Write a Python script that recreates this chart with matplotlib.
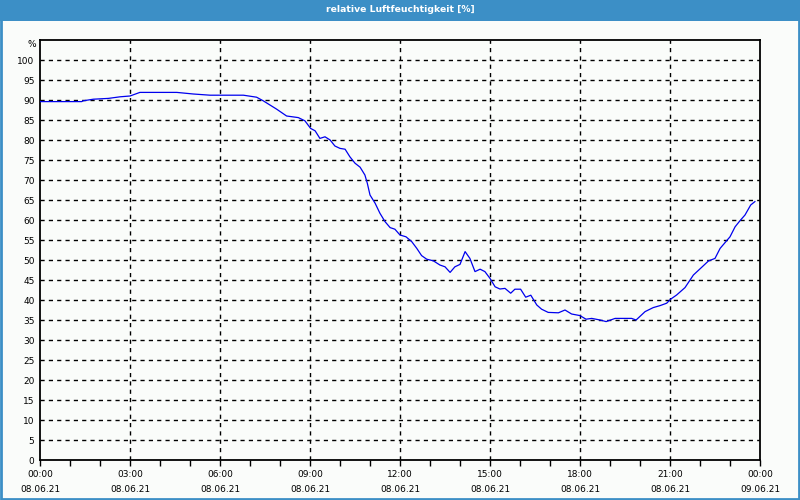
import matplotlib
matplotlib.use("Agg")
import matplotlib.pyplot as plt
from matplotlib.patches import Rectangle
from matplotlib.ticker import MultipleLocator

title = "relative Luftfeuchtigkeit [%]"
unit = "%"
tick_hours = [0, 3, 6, 9, 12, 15, 18, 21, 24]
tick_labels = ["00:00\n08.06.21", "03:00\n08.06.21", "06:00\n08.06.21", "09:00\n08.06.21",
               "12:00\n08.06.21", "15:00\n08.06.21", "18:00\n08.06.21", "21:00\n08.06.21",
               "00:00\n09.06.21"]
y_ticks = list(range(0, 101, 5))

hours = [0.0, 1.39, 1.44, 1.78, 2.28, 2.67, 3.0, 3.33, 4.56, 5.11, 5.67, 6.78, 7.22, 7.44,
         7.89, 8.22, 8.61, 8.83, 9.02, 9.17, 9.33, 9.5, 9.67, 9.83, 10.0, 10.17, 10.33,
         10.5, 10.67, 10.83, 10.91, 11.0, 11.17, 11.33, 11.5, 11.67, 11.83, 12.0, 12.2,
         12.39, 12.56, 12.72, 12.89, 13.11, 13.33, 13.5, 13.67, 13.83, 14.0, 14.17, 14.33,
         14.5, 14.67, 14.83, 15.0, 15.17, 15.33, 15.5, 15.69, 15.83, 16.02, 16.19, 16.36,
         16.56, 16.72, 16.94, 17.28, 17.5, 17.72, 18.0, 18.2, 18.39, 18.67, 18.87, 19.17,
         19.44, 19.72, 19.87, 20.17, 20.44, 20.67, 20.89, 21.02, 21.22, 21.5, 21.78, 22.06,
         22.28, 22.5, 22.67, 23.0, 23.17, 23.33, 23.5, 23.69, 23.83]
rh = [89.6, 89.6, 89.8, 90.2, 90.4, 90.8, 91.0, 91.9, 91.9, 91.5, 91.2, 91.2, 90.7, 89.8,
      87.7, 86.0, 85.6, 84.8, 82.9, 82.3, 80.4, 80.8, 80.0, 78.5, 77.9, 77.7, 75.8,
      74.2, 73.2, 71.25, 69.2, 66.25, 64.2, 61.7, 59.6, 58.1, 57.7, 56.25, 55.8,
      54.6, 52.9, 51.1, 50.2, 49.8, 48.75, 48.3, 46.9, 48.3, 48.9, 52.1, 50.4,
      47.1, 47.7, 47.1, 45.4, 43.3, 42.75, 42.9, 41.7, 42.7, 42.7, 40.7, 41.2,
      38.75, 37.7, 36.9, 36.8, 37.5, 36.5, 36.1, 35.2, 35.4, 35.0, 34.6, 35.4,
      35.4, 35.4, 35.0, 37.1, 38.1, 38.6, 39.2, 40.2, 41.25, 43.1, 46.25, 48.2,
      49.75, 50.4, 52.9, 55.8, 58.3, 59.8, 61.25, 63.75, 64.6]

bg = "#fafcfa"
blue = "#3c8fc6"

fig = plt.figure(figsize=(8, 5), dpi=100, facecolor=bg)
fig.patches.append(Rectangle((0, 0.959), 1, 0.041, transform=fig.transFigure,
                             facecolor=blue, edgecolor="none", zorder=0))
fig.patches.append(Rectangle((0.0015, 0.002), 0.997, 0.996, transform=fig.transFigure,
                             facecolor="none", edgecolor=blue, linewidth=2, zorder=1))
fig.text(0.5, 0.981, title, color="white", ha="center", va="center",
         fontsize=6.7, fontweight="bold", family="DejaVu Sans")

ax = fig.add_axes([0.05, 0.08, 0.90, 0.84])
ax.set_facecolor(bg)
ax.plot(hours, rh, color="#0000ee", linewidth=0.9, zorder=3)
ax.set_xlim(0, 24)
ax.set_ylim(0, 105)

ax.set_xticks(tick_hours)
ax.set_xticklabels(tick_labels, fontsize=6.5, linespacing=1.85)
ax.xaxis.set_minor_locator(MultipleLocator(1))
ax.tick_params(axis="x", which="both", direction="out", length=4, width=1, pad=3,
               colors="black")
ax.set_yticks(y_ticks)
ax.set_yticklabels([str(v) for v in y_ticks], fontsize=6.5)
ax.tick_params(axis="y", length=0, pad=4)
ax.text(-0.006, 103.8, unit, transform=ax.get_yaxis_transform(), ha="right",
        va="center", fontsize=6.5)

for v in y_ticks[1:]:
    ax.axhline(v, color="black", linestyle=(0, (3, 3)), linewidth=1, zorder=1)
for h in tick_hours[1:-1]:
    ax.axvline(h, color="black", linestyle=(0, (3, 3)), linewidth=1, zorder=1)

for s in ax.spines.values():
    s.set_linewidth(1.3)
    s.set_color("black")

fig.savefig("out.png", dpi=100, facecolor=bg)
